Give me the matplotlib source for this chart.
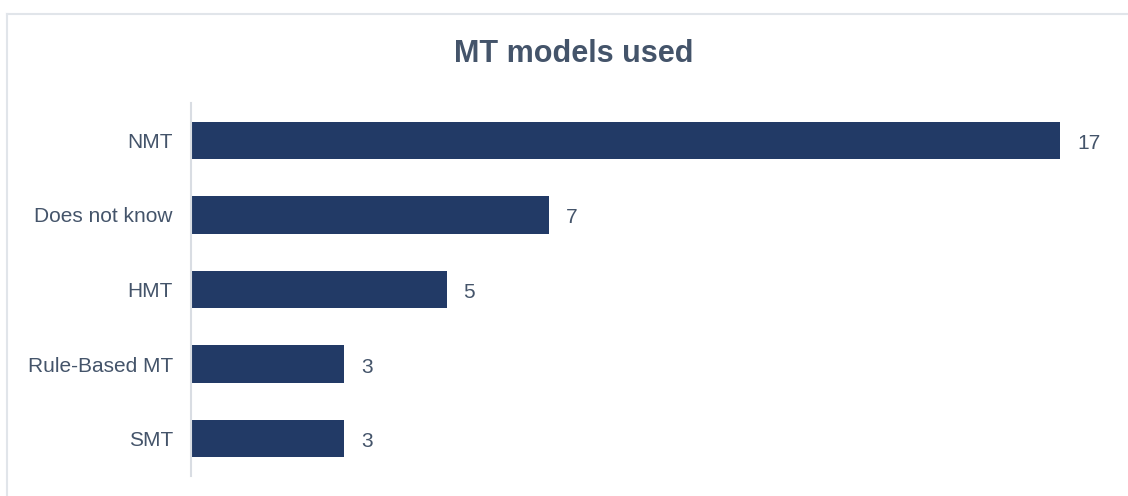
import matplotlib.pyplot as plt
from matplotlib.lines import Line2D

plt.rcParams['font.family'] = ['Liberation Sans', 'DejaVu Sans']

models = ["NMT", "Does not know", "HMT", "Rule-Based MT", "SMT"]
counts = [17, 7, 5, 3, 3]

bar_color = "#223a66"
text_color = "#44546a"
spine_color = "#d9dde3"

W, H = 1128, 496
fig = plt.figure(figsize=(W / 100, H / 100), dpi=100)

# axes placed in pixel terms: left spine at x=191, y from 103 to 476
left, right = 191, 191 + 18 * 51.12
top, bottom = 103, 476
ax = fig.add_axes([left / W, 1 - bottom / H, (right - left) / W, (bottom - top) / H])

y = list(range(len(models)))
ax.barh(y, counts, height=0.5, color=bar_color)
ax.set_ylim(len(models) - 0.5, -0.5)
ax.set_xlim(0, 18)
ax.set_yticks(y)
ax.set_yticklabels(models, fontsize=15, color=text_color)
ax.tick_params(axis="y", length=0, pad=13)
ax.set_xticks([])

for s in ["top", "right", "bottom"]:
    ax.spines[s].set_visible(False)
ax.spines["left"].set_color(spine_color)
ax.spines["left"].set_linewidth(1.5)

for yi, c in zip(y, counts):
    ax.annotate(str(c), (c, yi), xytext=(17, -3), textcoords="offset pixels",
                va="center", ha="left", fontsize=15, color=text_color)

fig.text(573.5 / W, 1 - 54 / H, "MT models used", ha="center", va="center",
         fontsize=22, fontweight="bold", color=text_color)

# outer frame (left and top edges)
fig.add_artist(Line2D([6.5 / W, 6.5 / W], [0, 1 - 13.5 / H], transform=fig.transFigure,
                      color="#e1e5ea", lw=1.5))
fig.add_artist(Line2D([6.5 / W, 1], [1 - 13.5 / H, 1 - 13.5 / H], transform=fig.transFigure,
                      color="#e1e5ea", lw=1.5))

fig.savefig("out.png", dpi=100)
